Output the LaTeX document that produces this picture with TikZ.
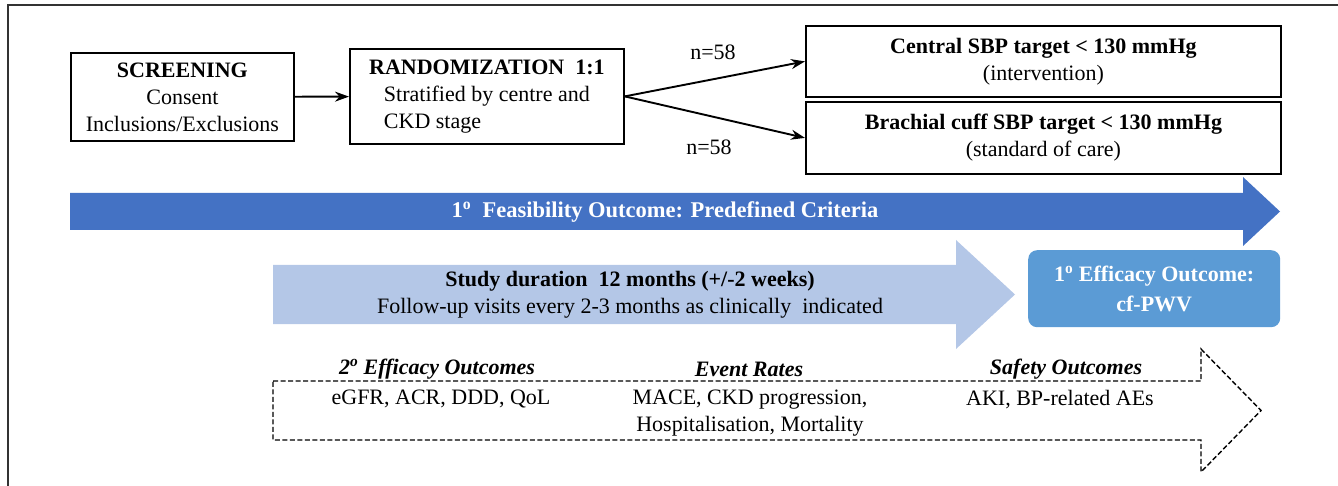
\documentclass[tikz,border=0pt]{standalone}
\usepackage{fontspec}
\setmainfont{Liberation Serif}
\usepackage{calc}
\usetikzlibrary{arrows.meta,positioning}
\definecolor{feasblue}{HTML}{4472C4}
\definecolor{studyblue}{HTML}{B4C7E7}
\definecolor{effblue}{HTML}{5B9BD5}

\begin{document}
\begin{tikzpicture}[x=1pt,y=-1pt,
   >={Stealth[length=14pt,width=10pt]},
   txt/.style={font=\fontsize{22}{27}\selectfont,inner sep=0pt,align=center},
   box/.style={txt,draw,line width=1.8pt,anchor=north west},
   hdr/.style={txt,font=\fontsize{22}{27}\selectfont\bfseries\itshape},
   flow/.style={->,line width=1.9pt}
  ]
  \useasboundingbox (0,0) rectangle (1338,486);
  \draw[line width=1.3pt,black!80] (8,486) -- (8,5) -- (1338,5);

  % top row
  \node[box,minimum width=223pt,minimum height=88pt] (screen) at (70,52)
    {\textbf{SCREENING}\\Consent\\Inclusions/Exclusions};
  \node[box,minimum width=274pt,minimum height=95pt] (rand) at (349,48)
    {\textbf{RANDOMIZATION\ \ 1:1}\\Stratified by centre and\\
     \makebox[\widthof{Stratified by centre and}][l]{CKD stage}};
  \node[box,minimum width=475pt,minimum height=71pt] (central) at (805,25)
    {\textbf{Central SBP target < 130 mmHg}\\(intervention)};
  \node[box,minimum width=475pt,minimum height=72pt] (brach) at (805,101)
    {\textbf{Brachial cuff SBP target < 130 mmHg}\\(standard of care)};

  \node[txt] (nup) at (713,52) {n=58};
  \node[txt] (nlo) at (709,147) {n=58};

  \draw[flow] (screen) -- (rand);
  \draw[flow] (rand.east) -- (central.west);
  \draw[flow] (rand.east) -- (brach.west);

  % feasibility arrow
  \fill[feasblue] (70,193) -- (1243,193) -- (1243,177) -- (1280,211.5)
    -- (1243,246) -- (1243,230) -- (70,230) -- cycle;
  \node[txt,text=white,font=\fontsize{22.5}{27}\selectfont\bfseries] (feas) at (665,212)
    {1\textsuperscript{o}\ \ Feasibility Outcome: Predefined Criteria};

  % study duration arrow
  \fill[studyblue] (273,265) -- (956,265) -- (956,240) -- (1015,294.5)
    -- (956,349) -- (956,324) -- (273,324) -- cycle;
  \node[txt] (study) at (630,295)
    {\textbf{Study duration\ \ 12 months (+/-2 weeks)}\\
     Follow-up visits\ every 2-3 months as clinically\ \ indicated};

  \node[txt,anchor=north west,fill=effblue,rounded corners=9pt,text=white,
        minimum width=252pt,minimum height=77pt,
        font=\fontsize{22}{30}\selectfont\bfseries] (eff) at (1028,250)
    {1\textsuperscript{o} Efficacy Outcome:\\cf-PWV};

  % secondary outcomes arrow
  \draw[line width=1.4pt,dash pattern=on 5pt off 2.5pt]
    (273,381) -- (1201,381) -- (1201,349) -- (1261,410.5)
    -- (1201,472) -- (1201,440) -- (273,440) -- cycle;
  \node[hdr] (sec) at (437,369) {2\textsuperscript{o} Efficacy Outcomes};
  \node[hdr] (evt) at (749,369) {Event Rates};
  \node[hdr] (saf) at (1066,369) {Safety Outcomes};
  \node[txt,anchor=north] (secl) at (441,390) {eGFR, ACR, DDD, QoL};
  \node[txt,anchor=north] (evtl) at (750,390) {MACE, CKD progression,\\Hospitalisation, Mortality};
  \node[txt,anchor=north] (safl) at (1060,390) {AKI, BP-related AEs};
\end{tikzpicture}
\end{document}
